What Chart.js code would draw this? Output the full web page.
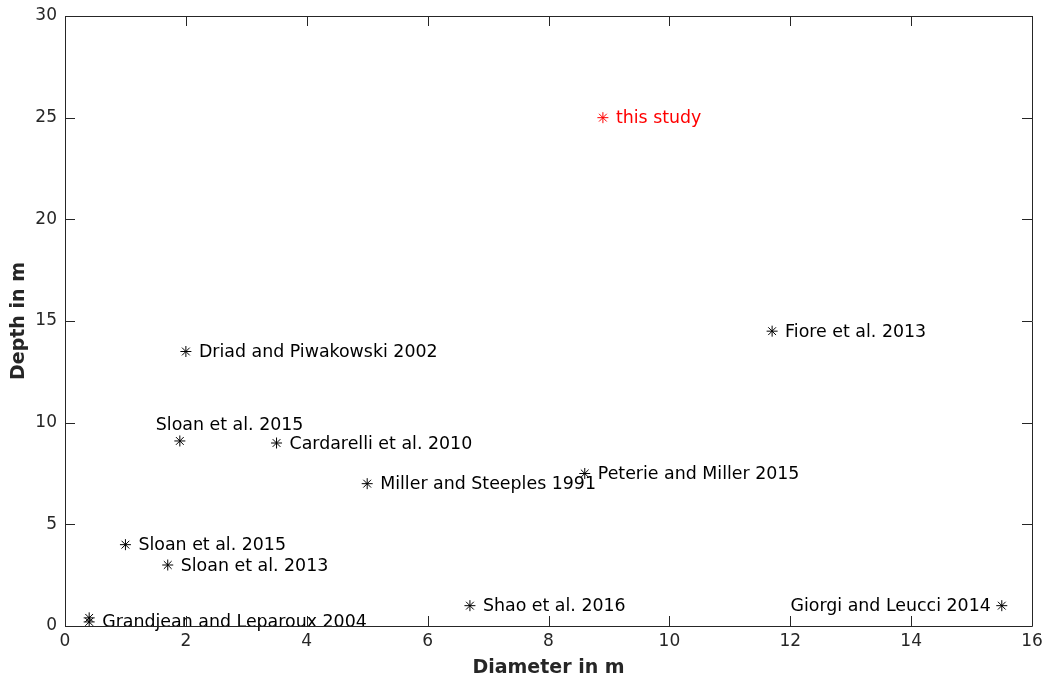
<!DOCTYPE html>
<html>
<head>
<meta charset="utf-8">
<title>Depth vs diameter</title>
<script src="https://cdn.jsdelivr.net/npm/chart.js@4/dist/chart.umd.min.js"></script>
<style>
  html, body { margin: 0; padding: 0; background: #ffffff; }
  #wrap { width: 1047px; height: 679px; position: relative; }
</style>
</head>
<body>
<div id="wrap"><canvas id="c" width="1047" height="679"></canvas></div>
<script>
// Survey targets: cavity diameter and depth (m)
const studies = [
  'Driad and Piwakowski 2002',
  'Sloan et al. 2015',
  'Cardarelli et al. 2010',
  'Miller and Steeples 1991',
  'Peterie and Miller 2015',
  'Sloan et al. 2015',
  'Sloan et al. 2013',
  'Grandjean and Leparoux 2004',
  '',
  'Shao et al. 2016',
  'Giorgi and Leucci 2014',
  'Fiore et al. 2013',
  'this study'
];
const diameters = [2.0, 1.9, 3.5, 5.0, 8.6, 1.0, 1.7, 0.4, 0.4, 6.7, 15.5, 11.7, 8.9];
const depths    = [13.5, 9.1, 9.0, 7.0, 7.5, 4.0, 3.0, 0.2, 0.4, 1.0, 1.0, 14.5, 25.0];
const isThisStudy = [false, false, false, false, false, false, false, false, false, false, false, false, true];

const xTicks = [0, 2, 4, 6, 8, 10, 12, 14, 16];
const yTicks = [0, 5, 10, 15, 20, 25, 30];

// Where each label sits relative to its marker (default: right of it)
const labelPlacement = { 1: 'above', 10: 'left' };

const points = diameters.map((d, i) => ({ x: d, y: depths[i] }));
const markColors = isThisStudy.map(t => t ? '#ff0000' : '#000000');

const FONT = "'DejaVu Sans', sans-serif";
const AXIS_COLOR = '#262626';

// Box outline with inward ticks on all four sides
const boxPlugin = {
  id: 'boxTicks',
  afterDraw(chart) {
    const { ctx, chartArea: a, scales } = chart;
    const len = 10;
    ctx.save();
    ctx.strokeStyle = AXIS_COLOR;
    ctx.lineWidth = 1;
    ctx.beginPath();
    ctx.rect(Math.round(a.left) + 0.5, Math.round(a.top) + 0.5,
             Math.round(a.right - a.left), Math.round(a.bottom - a.top));
    xTicks.forEach(v => {
      const px = Math.round(scales.x.getPixelForValue(v)) + 0.5;
      ctx.moveTo(px, a.bottom); ctx.lineTo(px, a.bottom - len);
      ctx.moveTo(px, a.top); ctx.lineTo(px, a.top + len);
    });
    yTicks.forEach(v => {
      const py = Math.round(scales.y.getPixelForValue(v)) + 0.5;
      ctx.moveTo(a.left, py); ctx.lineTo(a.left + len, py);
      ctx.moveTo(a.right, py); ctx.lineTo(a.right - len, py);
    });
    ctx.stroke();
    ctx.restore();
  }
};

// Study names written next to their markers
const labelPlugin = {
  id: 'studyLabels',
  afterDatasetsDraw(chart) {
    const { ctx, scales } = chart;
    ctx.save();
    ctx.font = '17.4px ' + FONT;
    studies.forEach((name, i) => {
      if (!name) return;
      const px = scales.x.getPixelForValue(diameters[i]);
      const py = scales.y.getPixelForValue(depths[i]);
      ctx.fillStyle = markColors[i];
      const place = labelPlacement[i] || 'right';
      ctx.textBaseline = 'middle';
      if (place === 'left') {
        ctx.textAlign = 'right';
        ctx.fillText(name, px - 11, py + 1);
      } else if (place === 'above') {
        ctx.textAlign = 'left';
        ctx.fillText(name, px - 24, py - 15);
      } else {
        ctx.textAlign = 'left';
        ctx.fillText(name, px + 13, py + 1);
      }
    });
    ctx.restore();
  }
};

new Chart(document.getElementById('c'), {
  type: 'scatter',
  data: {
    datasets: [{
      data: points,
      pointStyle: 'star',
      radius: 5.5,
      hoverRadius: 5.5,
      borderWidth: 1,
      pointBorderColor: markColors,
      pointBackgroundColor: markColors
    }]
  },
  options: {
    responsive: false,
    animation: false,
    devicePixelRatio: 1,
    layout: { padding: { top: 16, right: 15, left: 0, bottom: 0 } },
    plugins: { legend: { display: false }, tooltip: { enabled: false } },
    scales: {
      x: {
        type: 'linear', min: 0, max: 16,
        afterBuildTicks(s) { s.ticks = xTicks.map(v => ({ value: v })); },
        afterFit(s) { s.height = 53; s.paddingLeft = 0; s.paddingRight = 0; },
        grid: { display: false, drawTicks: false },
        border: { display: false },
        ticks: { color: AXIS_COLOR, font: { family: FONT, size: 17 }, padding: 5, maxRotation: 0 },
        title: { display: true, text: 'Diameter in m', color: AXIS_COLOR,
                 font: { family: FONT, size: 19, weight: 'bold' }, padding: { top: 0, bottom: 0 } }
      },
      y: {
        type: 'linear', min: 0, max: 30,
        afterBuildTicks(s) { s.ticks = yTicks.map(v => ({ value: v })); },
        afterFit(s) { s.width = 65; s.paddingTop = 0; s.paddingBottom = 0; },
        grid: { display: false, drawTicks: false },
        border: { display: false },
        ticks: { color: AXIS_COLOR, font: { family: FONT, size: 17 }, padding: 8 },
        title: { display: true, text: 'Depth in m', color: AXIS_COLOR,
                 font: { family: FONT, size: 19, weight: 'bold' }, padding: { top: 8, bottom: 0 } }
      }
    }
  },
  plugins: [boxPlugin, labelPlugin]
});
</script>
</body>
</html>
